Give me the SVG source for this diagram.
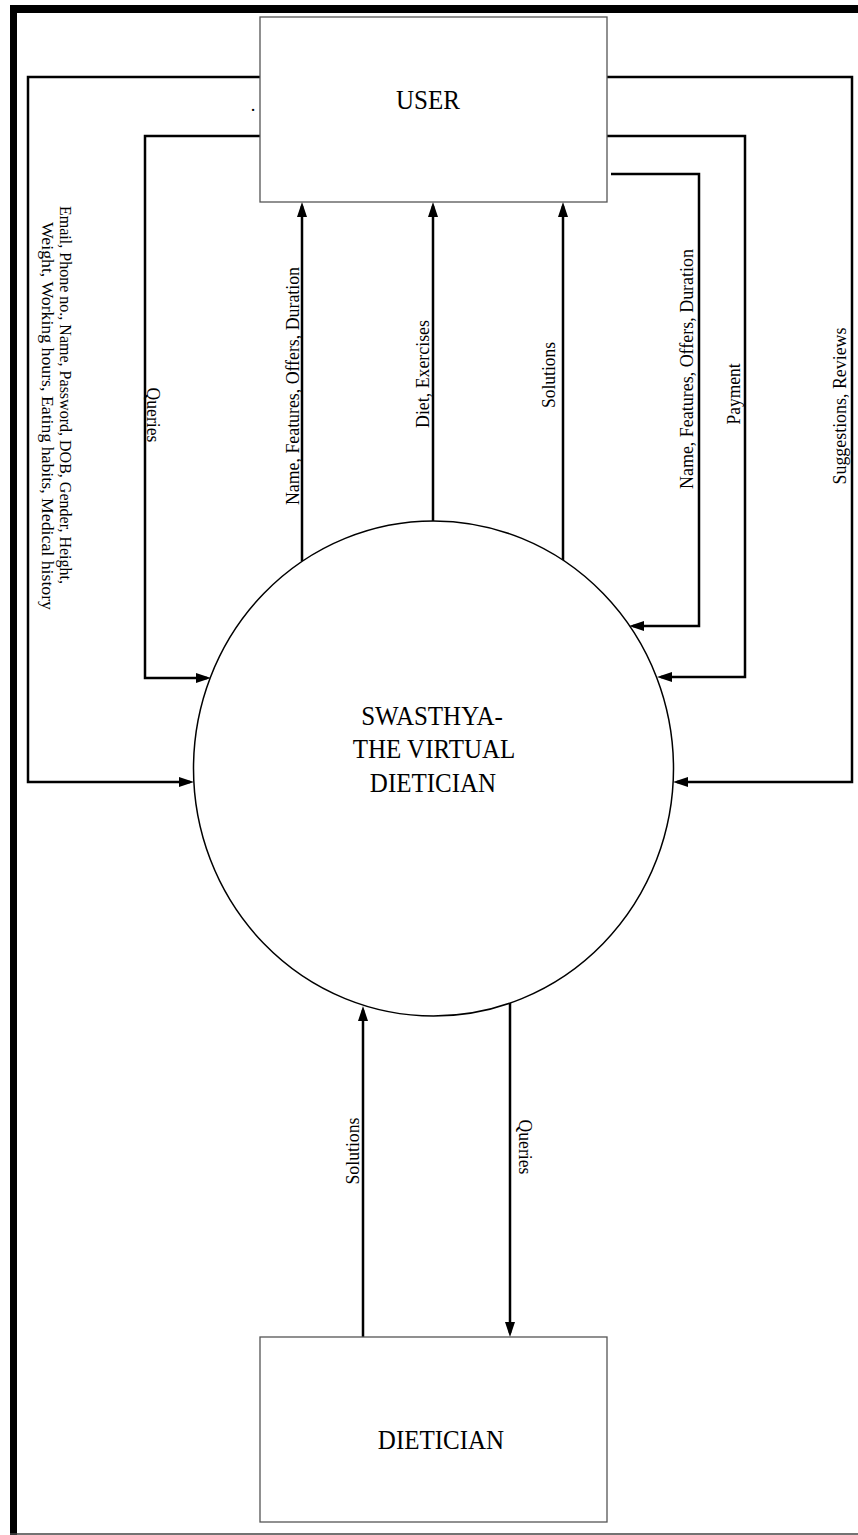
<svg xmlns="http://www.w3.org/2000/svg" width="858" height="1535" viewBox="0 0 858 1535">
  <style>
    .frame { fill: #000; }
    .entity { fill: #fff; stroke: #555; stroke-width: 1.3; }
    .process { fill: #fff; stroke: #000; stroke-width: 1.5; }
    .flow { fill: none; stroke: #000; stroke-width: 2.5; marker-end: url(#arrow); }
    .title { font-family: "Liberation Serif", "Times New Roman", serif; font-size: 25px; fill: #000; text-anchor: middle; }
    .label { font-family: "Liberation Serif", "Times New Roman", serif; font-size: 18.5px; fill: #000; text-anchor: middle; }
    .long { font-size: 17px; }
  </style>
  <defs>
    <marker id="arrow" markerUnits="userSpaceOnUse" markerWidth="15" markerHeight="10" refX="11" refY="5" orient="auto">
      <path d="M0,0 L15,5 L0,10 z" fill="#000"/>
    </marker>
  </defs>

  <rect width="858" height="1535" fill="#fff"/>

  <!-- page frame -->
  <g id="frame">
    <rect class="frame" x="10" y="5" width="848" height="8"/>
    <rect class="frame" x="10" y="5" width="7" height="1530"/>
    <line x1="10" y1="1534" x2="858" y2="1534" stroke="#444" stroke-width="1.5"/>
  </g>

  <!-- data flows -->
  <g id="connectors">
    <path class="flow" d="M260,77 H28 V782 H190"/>
    <path class="flow" d="M260,136 H145 V678 H207"/>
    <path class="flow" d="M302,561 V206"/>
    <path class="flow" d="M433,521 V206"/>
    <path class="flow" d="M563,561 V206"/>
    <path class="flow" d="M611,174 H699 V626 H633"/>
    <path class="flow" d="M607,136 H745 V677 H661"/>
    <path class="flow" d="M607,77 H852 V782 H677"/>
    <path class="flow" d="M363,1337 V1010"/>
    <path class="flow" d="M510,1003 V1333"/>
  </g>

  <!-- flow labels -->
  <g id="labels">
    <text class="label long" transform="translate(60,395) rotate(90)" textLength="378" lengthAdjust="spacingAndGlyphs">Email, Phone no., Name, Password, DOB, Gender, Height,</text>
    <text class="label long" transform="translate(41.5,416) rotate(90)" textLength="388" lengthAdjust="spacingAndGlyphs">Weight, Working hours, Eating habits, Medical history</text>
    <text class="label" transform="translate(147,415) rotate(90)" textLength="55" lengthAdjust="spacingAndGlyphs">Queries</text>
    <text class="label" transform="translate(299,386) rotate(-90)" textLength="238" lengthAdjust="spacingAndGlyphs">Name, Features, Offers, Duration</text>
    <text class="label" transform="translate(428.5,374) rotate(-90)" textLength="108" lengthAdjust="spacingAndGlyphs">Diet, Exercises</text>
    <text class="label" transform="translate(555,375) rotate(-90)" textLength="66" lengthAdjust="spacingAndGlyphs">Solutions</text>
    <text class="label" transform="translate(693,369) rotate(-90)" textLength="240" lengthAdjust="spacingAndGlyphs">Name, Features, Offers, Duration</text>
    <text class="label" transform="translate(740,394) rotate(-90)" textLength="61" lengthAdjust="spacingAndGlyphs">Payment</text>
    <text class="label" transform="translate(846,406) rotate(-90)" textLength="157" lengthAdjust="spacingAndGlyphs">Suggestions, Reviews</text>
    <text class="label" transform="translate(358.5,1151) rotate(-90)" textLength="67" lengthAdjust="spacingAndGlyphs">Solutions</text>
    <text class="label" transform="translate(519,1147) rotate(90)" textLength="55" lengthAdjust="spacingAndGlyphs">Queries</text>
    <text class="label" x="253" y="111" font-size="16">.</text>
  </g>

  <!-- external entity: user -->
  <g id="user">
    <rect class="entity" x="260" y="17" width="347" height="185"/>
    <text class="title" transform="translate(428,109) scale(1,1.1)">USER</text>
  </g>

  <!-- central process -->
  <g id="swasthya">
    <ellipse class="process" cx="433.5" cy="768.5" rx="240" ry="247.5"/>
    <text class="title" transform="translate(432,725) scale(1,1.1)">SWASTHYA-</text>
    <text class="title" transform="translate(434,758) scale(1,1.1)">THE VIRTUAL</text>
    <text class="title" transform="translate(433,792) scale(1,1.1)">DIETICIAN</text>
  </g>

  <!-- external entity: dietician -->
  <g id="dietician">
    <rect class="entity" x="260" y="1337" width="347" height="185"/>
    <text class="title" transform="translate(441,1449) scale(1,1.1)">DIETICIAN</text>
  </g>
</svg>
